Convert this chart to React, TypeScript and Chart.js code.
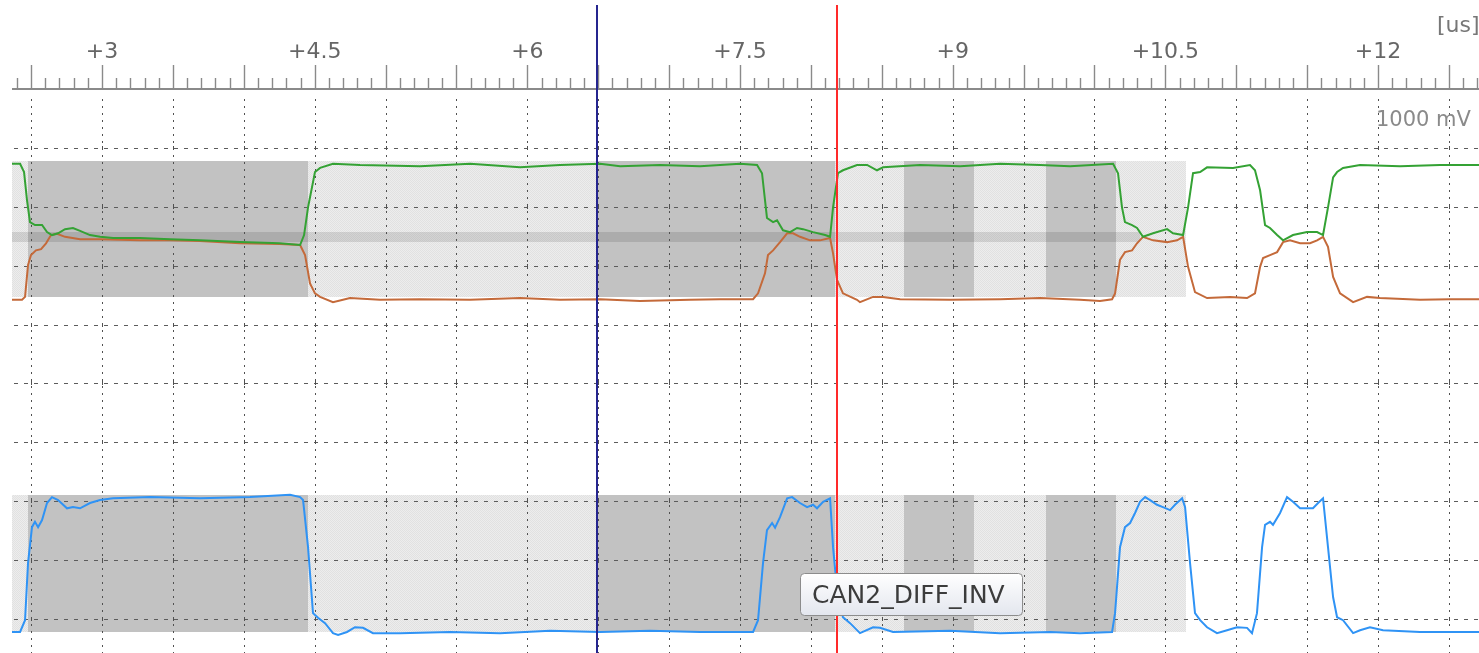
import { useEffect, useRef } from "react";
import { Chart, registerables } from "chart.js";

Chart.register(...registerables);

// ---- axis ranges (time in us, vertical in divisions of 1000 mV) ----
const X_MIN = 2.365;
const X_MAX = 12.712;
const Y_MIN = -0.577;
const Y_MAX = 9;
const TOP_OFFSET = 4; // CAN2 H/L channel offset (div)
const BOTTOM_OFFSET = 0; // CAN2_DIFF_INV channel offset (div)

const tickLabelValues = [3, 4.5, 6, 7.5, 9, 10.5, 12];
const tickLabels = ["+3", "+4.5", "+6", "+7.5", "+9", "+10.5", "+12"];
const gridRows = [0, 1, 2, 3, 4, 5, 6, 7, 8];

// ---- CAN bit shading ----
const bitEdges = [2.365, 2.478, 4.453, 6.491, 8.17, 8.657, 9.15, 9.658, 10.152, 10.646];
const bitDominant = [false, true, false, true, false, true, false, true, false];
const topShade = [1.467, 3.776];
const bottomShade = [-0.221, 2.105];
const midBand = [2.4, 2.57];
const midBandEnd = 10.321;

// ---- cursors ----
const cursorBlue = 6.491;
const cursorRed = 8.184;

// ---- CANH (green) ----
const canhT = [2.365, 2.422, 2.45, 2.471, 2.492, 2.527, 2.577, 2.612, 2.647, 2.69, 2.739, 2.795, 2.845, 2.915, 2.986, 3.078, 3.268, 3.48, 3.691, 3.973, 4.255, 4.397, 4.425, 4.453, 4.502, 4.538, 4.629, 4.82, 5.243, 5.596, 5.948, 6.23, 6.513, 6.654, 6.936, 7.218, 7.5, 7.62, 7.655, 7.69, 7.733, 7.761, 7.803, 7.853, 7.902, 7.944, 8.015, 8.1, 8.135, 8.156, 8.191, 8.226, 8.325, 8.396, 8.466, 8.509, 8.77, 9.052, 9.334, 9.616, 9.828, 10.131, 10.166, 10.194, 10.215, 10.265, 10.3, 10.342, 10.413, 10.512, 10.554, 10.625, 10.66, 10.695, 10.745, 10.794, 10.977, 11.097, 11.132, 11.168, 11.203, 11.238, 11.288, 11.33, 11.4, 11.499, 11.57, 11.612, 11.647, 11.683, 11.711, 11.753, 11.873, 12.155, 12.437, 12.712];
const canhV = [3.73, 3.73, 3.59, 3.11, 2.74, 2.69, 2.69, 2.57, 2.52, 2.55, 2.62, 2.64, 2.59, 2.52, 2.49, 2.47, 2.47, 2.45, 2.43, 2.4, 2.38, 2.35, 2.52, 2.99, 3.59, 3.66, 3.73, 3.71, 3.69, 3.73, 3.67, 3.71, 3.73, 3.69, 3.71, 3.69, 3.73, 3.71, 3.57, 2.81, 2.74, 2.77, 2.6, 2.57, 2.64, 2.62, 2.57, 2.52, 2.49, 2.99, 3.57, 3.62, 3.71, 3.71, 3.62, 3.67, 3.71, 3.69, 3.73, 3.71, 3.69, 3.73, 3.57, 2.99, 2.74, 2.69, 2.64, 2.49, 2.55, 2.62, 2.55, 2.52, 2.99, 3.57, 3.59, 3.67, 3.66, 3.71, 3.62, 3.28, 2.69, 2.64, 2.52, 2.43, 2.52, 2.57, 2.57, 2.52, 2.99, 3.5, 3.59, 3.66, 3.71, 3.69, 3.71, 3.71];

// ---- CANL (orange) ----
const canlT = [2.365, 2.436, 2.457, 2.478, 2.499, 2.534, 2.57, 2.605, 2.64, 2.683, 2.739, 2.845, 2.986, 3.268, 3.48, 3.691, 3.973, 4.255, 4.397, 4.432, 4.467, 4.502, 4.538, 4.629, 4.749, 4.961, 5.243, 5.596, 5.948, 6.23, 6.513, 6.795, 7.147, 7.359, 7.592, 7.627, 7.676, 7.697, 7.733, 7.782, 7.832, 7.874, 7.923, 7.994, 8.064, 8.135, 8.156, 8.184, 8.226, 8.325, 8.346, 8.438, 8.509, 8.629, 8.981, 9.334, 9.616, 9.898, 10.039, 10.124, 10.145, 10.18, 10.215, 10.265, 10.3, 10.342, 10.413, 10.512, 10.582, 10.625, 10.66, 10.709, 10.794, 10.956, 11.076, 11.132, 11.168, 11.189, 11.238, 11.288, 11.33, 11.379, 11.45, 11.52, 11.57, 11.612, 11.647, 11.683, 11.732, 11.824, 11.922, 12.014, 12.296, 12.508, 12.712];
const canlV = [1.42, 1.42, 1.47, 2.01, 2.18, 2.26, 2.28, 2.38, 2.52, 2.54, 2.49, 2.45, 2.45, 2.43, 2.43, 2.42, 2.38, 2.37, 2.35, 2.18, 1.7, 1.53, 1.47, 1.38, 1.45, 1.42, 1.43, 1.42, 1.45, 1.42, 1.43, 1.4, 1.42, 1.43, 1.43, 1.53, 1.87, 2.18, 2.26, 2.4, 2.55, 2.55, 2.49, 2.43, 2.43, 2.47, 2.21, 1.76, 1.53, 1.42, 1.38, 1.47, 1.47, 1.43, 1.42, 1.43, 1.45, 1.42, 1.4, 1.43, 1.53, 2.1, 2.23, 2.26, 2.38, 2.49, 2.43, 2.4, 2.43, 2.49, 1.98, 1.55, 1.45, 1.47, 1.45, 1.53, 1.98, 2.13, 2.18, 2.23, 2.4, 2.43, 2.38, 2.38, 2.43, 2.49, 2.32, 1.81, 1.53, 1.38, 1.47, 1.45, 1.42, 1.43, 1.43];

// ---- CAN2_DIFF_INV (blue) ----
const diffT = [2.365, 2.422, 2.457, 2.478, 2.506, 2.527, 2.549, 2.577, 2.612, 2.647, 2.69, 2.753, 2.795, 2.845, 2.915, 2.986, 3.078, 3.339, 3.691, 4.044, 4.326, 4.397, 4.418, 4.453, 4.488, 4.523, 4.573, 4.629, 4.665, 4.728, 4.784, 4.841, 4.911, 5.102, 5.455, 5.807, 6.16, 6.513, 6.865, 7.218, 7.592, 7.627, 7.662, 7.69, 7.726, 7.747, 7.782, 7.832, 7.867, 7.923, 7.973, 8.015, 8.043, 8.086, 8.135, 8.156, 8.191, 8.226, 8.276, 8.346, 8.438, 8.487, 8.579, 8.981, 9.334, 9.687, 9.898, 10.124, 10.145, 10.18, 10.215, 10.251, 10.286, 10.321, 10.357, 10.392, 10.441, 10.483, 10.533, 10.568, 10.618, 10.639, 10.674, 10.709, 10.745, 10.794, 10.864, 10.935, 11.005, 11.076, 11.111, 11.146, 11.182, 11.203, 11.238, 11.259, 11.309, 11.358, 11.4, 11.45, 11.541, 11.577, 11.612, 11.647, 11.683, 11.711, 11.753, 11.824, 11.873, 11.943, 12.035, 12.296, 12.712];
const diffV = [-0.22, -0.22, -0.02, 0.95, 1.56, 1.65, 1.56, 1.68, 1.97, 2.07, 2.02, 1.88, 1.9, 1.88, 1.97, 2.02, 2.05, 2.07, 2.05, 2.07, 2.11, 2.07, 2.02, 1.22, 0.1, 0.02, -0.07, -0.24, -0.27, -0.22, -0.14, -0.15, -0.24, -0.24, -0.22, -0.24, -0.2, -0.22, -0.2, -0.22, -0.22, -0.02, 0.95, 1.51, 1.63, 1.55, 1.73, 2.05, 2.07, 1.97, 1.9, 1.94, 1.88, 1.99, 2.05, 1.22, 0.32, 0.03, -0.07, -0.24, -0.14, -0.15, -0.22, -0.2, -0.24, -0.22, -0.24, -0.22, 0.1, 1.22, 1.56, 1.63, 1.8, 1.99, 2.07, 2.02, 1.94, 1.9, 1.85, 1.94, 2.05, 1.9, 0.95, 0.1, -0.02, -0.14, -0.24, -0.19, -0.14, -0.15, -0.24, 0.1, 1.22, 1.6, 1.65, 1.6, 1.8, 2.07, 1.99, 1.88, 1.88, 1.97, 2.05, 1.22, 0.37, 0.03, -0.02, -0.24, -0.19, -0.14, -0.19, -0.22, -0.22];

const FONT = "'DejaVu Sans', Verdana, sans-serif";

function toPoints(ts: number[], vs: number[], offset: number) {
  return ts.map((t, i) => ({ x: t, y: vs[i] + offset }));
}

function lightPattern(ctx: CanvasRenderingContext2D) {
  const c = document.createElement("canvas");
  c.width = 2;
  c.height = 2;
  const p = c.getContext("2d")!;
  p.fillStyle = "#ededed";
  p.fillRect(0, 0, 2, 2);
  p.fillStyle = "#e1e1e1";
  p.fillRect(0, 0, 1, 1);
  p.fillRect(1, 1, 1, 1);
  return ctx.createPattern(c, "repeat") || "#e8e8e8";
}

const scopePlugin = {
  id: "scope",
  beforeDatasetsDraw(chart: any) {
    const { ctx, chartArea, scales } = chart;
    const xs = scales.x;
    const ys = scales.y;
    ctx.save();
    const light = lightPattern(ctx);
    // bit shading
    for (let i = 0; i < bitDominant.length; i++) {
      const x0 = Math.round(xs.getPixelForValue(bitEdges[i]));
      const x1 = Math.round(xs.getPixelForValue(bitEdges[i + 1]));
      ctx.fillStyle = bitDominant[i] ? "#c2c2c2" : light;
      const ty0 = Math.round(ys.getPixelForValue(topShade[1] + TOP_OFFSET));
      const ty1 = Math.round(ys.getPixelForValue(topShade[0] + TOP_OFFSET));
      ctx.fillRect(x0, ty0, x1 - x0, ty1 - ty0);
      const by0 = Math.round(ys.getPixelForValue(bottomShade[1] + BOTTOM_OFFSET));
      const by1 = Math.round(ys.getPixelForValue(bottomShade[0] + BOTTOM_OFFSET));
      ctx.fillRect(x0, by0, x1 - x0, by1 - by0);
    }
    // mid band
    {
      const x0 = xs.getPixelForValue(X_MIN);
      const x1 = xs.getPixelForValue(midBandEnd);
      const y0 = Math.round(ys.getPixelForValue(midBand[1] + TOP_OFFSET));
      const y1 = Math.round(ys.getPixelForValue(midBand[0] + TOP_OFFSET));
      ctx.fillStyle = "rgba(0,0,0,0.11)";
      ctx.fillRect(x0, y0, x1 - x0, y1 - y0);
    }
    // grid
    ctx.strokeStyle = "#5c5c5c";
    ctx.lineWidth = 1;
    ctx.setLineDash([4, 6]);
    ctx.beginPath();
    for (const r of gridRows) {
      const py = Math.round(ys.getPixelForValue(r)) + 0.5;
      ctx.moveTo(chartArea.left + 2, py);
      ctx.lineTo(chartArea.right, py);
    }
    ctx.stroke();
    ctx.setLineDash([2, 5]);
    ctx.strokeStyle = "#505050";
    ctx.beginPath();
    const majors: number[] = [];
    for (let i = Math.ceil(X_MIN * 2); i <= Math.floor(X_MAX * 2); i++) majors.push(i / 2);
    for (const t of majors) {
      const px = Math.round(xs.getPixelForValue(t)) + 0.5;
      ctx.moveTo(px, chartArea.top + 10);
      ctx.lineTo(px, chartArea.bottom);
    }
    ctx.stroke();
    ctx.setLineDash([]);
    ctx.beginPath();
    for (const t of majors) {
      const px = Math.round(xs.getPixelForValue(t)) + 0.5;
      for (const r of gridRows) {
        const py = Math.round(ys.getPixelForValue(r));
        ctx.moveTo(px, py - 2);
        ctx.lineTo(px, py + 2);
      }
    }
    ctx.stroke();
    ctx.restore();
  },
  afterDatasetsDraw(chart: any) {
    const { ctx, chartArea, scales } = chart;
    const xs = scales.x;
    ctx.save();
    const top = chartArea.top;
    // axis baseline
    ctx.strokeStyle = "#8a8a8a";
    ctx.lineWidth = 2;
    ctx.beginPath();
    ctx.moveTo(chartArea.left, top);
    ctx.lineTo(chartArea.right, top);
    ctx.stroke();
    // ticks
    ctx.lineWidth = 1.4;
    ctx.beginPath();
    for (let i = Math.ceil(X_MIN * 10); i <= Math.floor(X_MAX * 10); i++) {
      const px = Math.round(xs.getPixelForValue(i / 10)) + 0.5;
      const major = i % 5 === 0;
      ctx.moveTo(px, top - (major ? 24 : 11));
      ctx.lineTo(px, top);
    }
    ctx.stroke();
    // labels
    ctx.fillStyle = "#666666";
    ctx.font = `22px ${FONT}`;
    ctx.textAlign = "center";
    ctx.textBaseline = "alphabetic";
    tickLabelValues.forEach((v, i) => {
      ctx.fillText(tickLabels[i], xs.getPixelForValue(v), top - 31);
    });
    ctx.textAlign = "left";
    ctx.fillStyle = "#777777";
    ctx.fillText("[us]", 1437, 32);
    ctx.font = `21px ${FONT}`;
    ctx.fillStyle = "#8a8a8a";
    ctx.fillText("1000 mV", 1376, 126);
    // cursors
    ctx.lineWidth = 2;
    ctx.strokeStyle = "#25258f";
    let cx = Math.round(xs.getPixelForValue(cursorBlue));
    ctx.beginPath();
    ctx.moveTo(cx, 5);
    ctx.lineTo(cx, chartArea.bottom);
    ctx.stroke();
    ctx.strokeStyle = "#ff2a2a";
    cx = Math.round(xs.getPixelForValue(cursorRed));
    ctx.beginPath();
    ctx.moveTo(cx, 5);
    ctx.lineTo(cx, chartArea.bottom);
    ctx.stroke();
    // hover label box
    const bx = 800.5, by = 573.5, bw = 222, bh = 42, r = 4;
    const g = ctx.createLinearGradient(0, by, 0, by + bh);
    g.addColorStop(0, "#ffffff");
    g.addColorStop(1, "#e3e6ee");
    ctx.fillStyle = g;
    ctx.strokeStyle = "#8c8c8c";
    ctx.lineWidth = 1;
    ctx.beginPath();
    ctx.moveTo(bx + r, by);
    ctx.lineTo(bx + bw - r, by);
    ctx.quadraticCurveTo(bx + bw, by, bx + bw, by + r);
    ctx.lineTo(bx + bw, by + bh - r);
    ctx.quadraticCurveTo(bx + bw, by + bh, bx + bw - r, by + bh);
    ctx.lineTo(bx + r, by + bh);
    ctx.quadraticCurveTo(bx, by + bh, bx, by + bh - r);
    ctx.lineTo(bx, by + r);
    ctx.quadraticCurveTo(bx, by, bx + r, by);
    ctx.closePath();
    ctx.fill();
    ctx.stroke();
    ctx.fillStyle = "#3c3c3c";
    ctx.font = `25px ${FONT}`;
    ctx.fillText("CAN2_DIFF_INV", 812, 603);
    ctx.restore();
  },
};

export default function App() {
  const ref = useRef<HTMLCanvasElement | null>(null);
  useEffect(() => {
    document.body.style.margin = "0";
    document.body.style.background = "#ffffff";
    if (!ref.current) return;
    const line = { showLine: true, pointRadius: 0, borderWidth: 2, tension: 0, fill: false };
    const chart = new Chart(ref.current, {
      type: "scatter",
      data: {
        datasets: [
          { ...line, label: "CAN2_H", data: toPoints(canhT, canhV, TOP_OFFSET), borderColor: "#34a234" },
          { ...line, label: "CAN2_L", data: toPoints(canlT, canlV, TOP_OFFSET), borderColor: "#c46a3a" },
          { ...line, label: "CAN2_DIFF_INV", data: toPoints(diffT, diffV, BOTTOM_OFFSET), borderColor: "#2f93f5" },
        ],
      } as any,
      options: {
        responsive: false,
        maintainAspectRatio: false,
        animation: false,
        layout: { padding: { left: 12, top: 89, right: 0, bottom: 0 } },
        scales: {
          x: { type: "linear", min: X_MIN, max: X_MAX, display: false },
          y: { type: "linear", min: Y_MIN, max: Y_MAX, display: false },
        },
        plugins: { legend: { display: false }, tooltip: { enabled: false } },
        events: [],
      } as any,
      plugins: [scopePlugin],
    });
    return () => chart.destroy();
  }, []);
  return (
    <div style={{ width: 1479, height: 653, background: "#fff" }}>
      <canvas ref={ref} width={1479} height={653} style={{ display: "block" }} />
    </div>
  );
}
